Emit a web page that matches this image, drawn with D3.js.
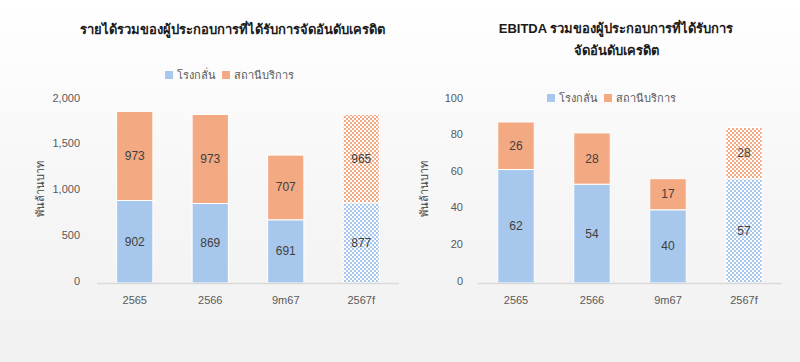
<!DOCTYPE html>
<html lang="th">
<head>
<meta charset="utf-8">
<title>รายได้และ EBITDA</title>
<script src="https://d3js.org/d3.v7.min.js"></script>
<style>
  html, body { margin: 0; padding: 0; }
  body { width: 800px; height: 362px; overflow: hidden; font-family: "Noto Sans", "Liberation Sans", sans-serif; }
</style>
</head>
<body>
<script>
// ข้อมูล
var categories = ["2565", "2566", "9m67", "2567f"];
var forecast = [false, false, false, true];
var seriesNames = ["โรงกลั่น", "สถานีบริการ"];

var revRefinery = [902, 869, 691, 877];
var revStation = [973, 973, 707, 965];
var revTicks = [0, 500, 1000, 1500, 2000];

var ebitdaRefinery = [62, 54, 40, 57];
var ebitdaStation = [26, 28, 17, 28];
var ebitdaTicks = [0, 20, 40, 60, 80, 100];

var colors = ["#a7c8ec", "#f3a982"];

var W = 800, H = 362;
var svg = d3.select("body").append("svg")
    .attr("width", W)
    .attr("height", H);

var defs = svg.append("defs");
var bg = defs.append("linearGradient").attr("id", "bg")
    .attr("x1", 0).attr("y1", 0).attr("x2", 0).attr("y2", 1);
bg.append("stop").attr("offset", "0").attr("stop-color", "#ffffff");
bg.append("stop").attr("offset", "0.55").attr("stop-color", "#f6f6f6");
bg.append("stop").attr("offset", "1").attr("stop-color", "#f1f1f1");
svg.append("rect").attr("width", W).attr("height", H).attr("fill", "url(#bg)");

// ลายตารางหมากรุกสำหรับปีประมาณการ
colors.forEach(function(c, i) {
  var p = defs.append("pattern").attr("id", "chk" + i)
      .attr("patternUnits", "userSpaceOnUse")
      .attr("width", 4).attr("height", 4);
  p.append("rect").attr("width", 4).attr("height", 4).attr("fill", "#fdfdfd");
  p.append("rect").attr("width", 2).attr("height", 2).attr("fill", c);
  p.append("rect").attr("x", 2).attr("y", 2).attr("width", 2).attr("height", 2).attr("fill", c);
});

function drawChart(opt) {
  var g = svg.append("g");

  var x = d3.scaleBand().domain(categories)
      .range([opt.x0, opt.x1]).paddingInner(0.52).paddingOuter(0.26);
  var y = d3.scaleLinear().domain([0, opt.max]).range([opt.y0, opt.y1]);

  // ชื่อกราฟ
  opt.title.forEach(function(t, i) {
    g.append("text")
      .attr("x", opt.titleX).attr("y", opt.titleY + i * 22)
      .attr("text-anchor", "middle")
      .attr("font-family", "Liberation Sans, Arial, sans-serif")
      .attr("font-size", "13px").attr("font-weight", "bold")
      .attr("fill", "#1a1a1a")
      .text(t);
  });

  // คำอธิบาย
  var lg = g.append("g").attr("transform", "translate(" + opt.legendX + "," + opt.legendY + ")");
  var lx = 0;
  seriesNames.forEach(function(n, i) {
    lg.append("rect").attr("x", lx).attr("y", -4).attr("width", 8).attr("height", 8).attr("fill", colors[i]);
    lg.append("text").attr("x", lx + 12).attr("y", 4)
      .attr("font-size", "11px").attr("fill", "#595959").text(n);
    lx += 57;
  });

  // แกน y
  var ya = d3.axisLeft(y).tickValues(opt.ticks).tickSize(0).tickPadding(14)
      .tickFormat(d3.format(","));
  var yg = g.append("g").attr("transform", "translate(" + opt.yLabelX + ",0)").call(ya);
  yg.select(".domain").remove();
  yg.selectAll("text").attr("font-size", "11px").attr("fill", "#595959")
    .attr("font-family", "Liberation Sans, sans-serif")
    .attr("dy", "0.1em");

  g.append("text")
    .attr("transform", "translate(" + opt.yTitleX + "," + ((opt.y0 + opt.y1) / 2 - 3) + ") rotate(-90)")
    .attr("text-anchor", "middle")
    .attr("font-size", "11px").attr("fill", "#404040")
    .text("พันล้านบาท");

  // แท่ง
  categories.forEach(function(c, i) {
    var vals = [opt.a[i], opt.b[i]];
    var base = 0;
    vals.forEach(function(v, s) {
      var top = base + v;
      var fill = forecast[i] ? "url(#chk" + s + ")" : colors[s];
      g.append("rect")
        .attr("x", x(c)).attr("width", x.bandwidth())
        .attr("y", y(top)).attr("height", y(base) - y(top))
        .attr("fill", fill)
        .attr("stroke", "#ffffff").attr("stroke-width", 1);
      g.append("text")
        .attr("x", x(c) + x.bandwidth() / 2)
        .attr("y", (y(top) + y(base)) / 2 + 4)
        .attr("text-anchor", "middle")
        .attr("font-size", "12px").attr("fill", "#404040")
        .attr("font-family", "Liberation Sans, sans-serif")
        .text(v);
      base = top;
    });
  });

  // แกน x
  g.append("line")
    .attr("x1", opt.x0).attr("x2", opt.x1)
    .attr("y1", y(0) + 0.5).attr("y2", y(0) + 0.5)
    .attr("stroke", "#d9d9d9").attr("stroke-width", 1.5);
  var xa = d3.axisBottom(x).tickSize(0).tickPadding(13);
  var xg = g.append("g").attr("transform", "translate(0," + opt.y0 + ")").call(xa);
  xg.select(".domain").remove();
  xg.selectAll("text").attr("font-size", "11px").attr("fill", "#595959")
    .attr("font-family", "Liberation Sans, sans-serif");
}

drawChart({
  a: revRefinery, b: revStation, max: 2000, ticks: revTicks,
  x0: 97, x1: 399, y0: 283, y1: 100,
  yLabelX: 94, yTitleX: 44,
  title: ["รายได้รวมของผู้ประกอบการที่ได้รับการจัดอันดับเครดิต"], titleX: 232, titleY: 34,
  legendX: 165, legendY: 75
});

drawChart({
  a: ebitdaRefinery, b: ebitdaStation, max: 100, ticks: ebitdaTicks,
  x0: 478, x1: 782, y0: 283, y1: 100,
  yLabelX: 477, yTitleX: 428,
  title: ["EBITDA รวมของผู้ประกอบการที่ได้รับการ", "จัดอันดับเครดิต"], titleX: 616, titleY: 33,
  legendX: 547, legendY: 98
});
</script>
</body>
</html>
